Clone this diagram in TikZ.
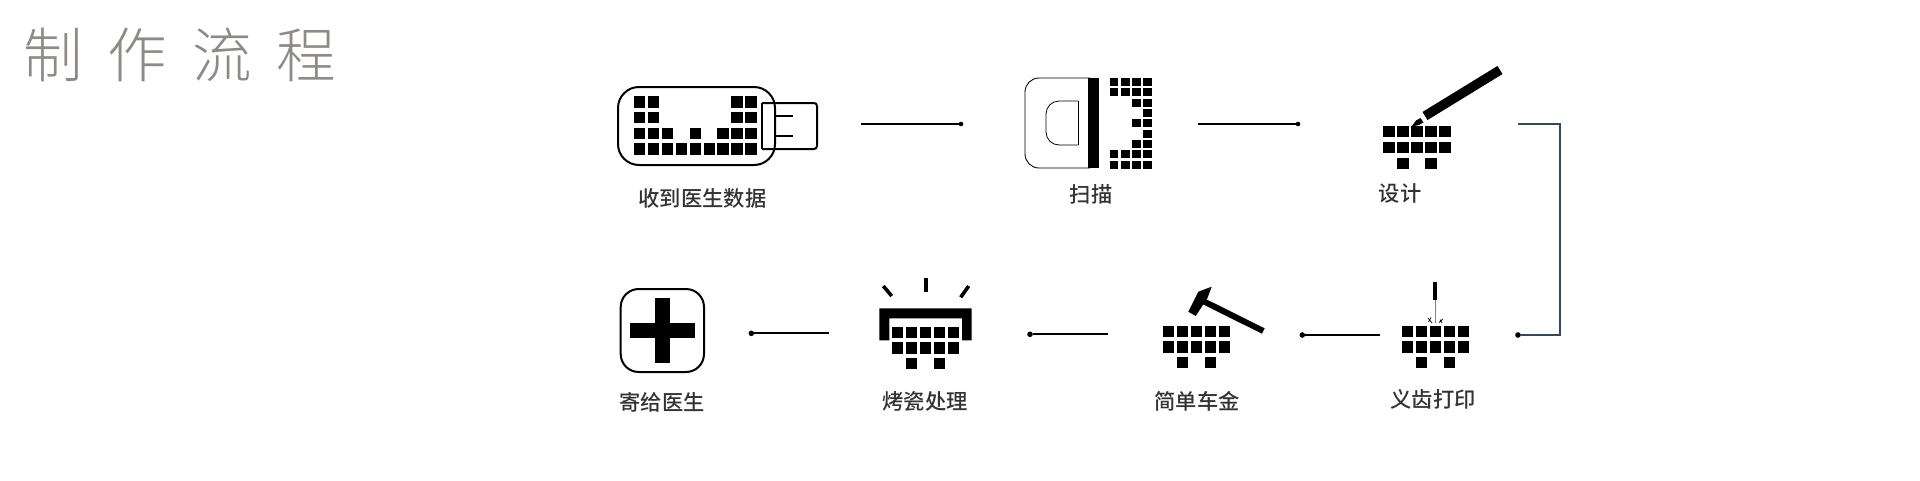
\documentclass[tikz,border=0pt]{standalone}
\usepackage{fontspec}
\setmainfont{Liberation Sans}
\newfontfamily\cjkfont{Noto Sans CJK SC Medium}
\newfontfamily\cjklight{Noto Sans CJK SC Light}
\definecolor{titlegrey}{HTML}{8F8A87}
\definecolor{labelgrey}{HTML}{333333}
\definecolor{navy}{HTML}{34495E}
\tikzset{
  lbl/.style={inner sep=0pt,anchor=center,text=labelgrey,font=\cjkfont\fontsize{21.3}{22}\selectfont},
  ttl/.style={inner sep=0pt,anchor=center,text=titlegrey,font=\cjklight\fontsize{59.5}{60}\selectfont},
  conn/.style={draw=black,line width=2.2pt},
  connblue/.style={draw=navy,line width=2.2pt,line join=miter},
  enddot/.style={circle,fill=black,inner sep=0pt,minimum size=5.6pt},
  outline/.style={draw=black,line width=2pt},
  thin outline/.style={draw=black,line width=0.9pt},
  solid part/.style={fill=black,draw=none}
}
% one block of a pixel grid, centred at (x,y), width, height
\newcommand{\blk}[4]{\fill[black] (#1-#3/2,#2-#4/2) rectangle (#1+#3/2,#2+#4/2);}
% the tooth grid: first column x, first row y
\newcommand{\toothgrid}[2]{%
  \foreach \c in {0,...,4}{\blk{#1+\c*14}{#2}{11.3}{11.3}\blk{#1+\c*14}{#2+15.8}{11.3}{11.3}}%
  \blk{#1+14}{#2+31.5}{11.3}{11.3}\blk{#1+42}{#2+31.5}{11.3}{11.3}}
\begin{document}
\begin{tikzpicture}[x=1pt,y=-1pt]
\useasboundingbox (0,0) rectangle (1920,480);
% title
\node[ttl] (title) at (180,55) {\spaceskip=25pt\relax 制 作 流 程};
% USB icon
\draw[outline,rounded corners=21pt] (618,87) rectangle (775,165);
\draw[outline] (762,103) -- (762,149);
\draw[outline,rounded corners=3pt] (762,149) -- (817,149) -- (817,103) -- (762,103);
\draw[line width=1.2pt] (775,116) -- (793,116) (775,136) -- (793,136);
\foreach \c in {0,1,7,8}{\blk{639.7+\c*13.9}{102}{11.3}{11.3}\blk{639.7+\c*13.9}{117.7}{11.3}{11.3}}
\foreach \c in {0,1,2,4,6,7,8}{\blk{639.7+\c*13.9}{133.3}{11.3}{11.3}}
\foreach \c in {0,...,8}{\blk{639.7+\c*13.9}{149}{11.3}{11.3}}
\node[lbl] (l1) at (702.5,198) {收到医生数据};
% scan icon
\draw[thin outline,rounded corners=14pt] (1090,78) -- (1025,78) -- (1025,168) -- (1090,168);
\fill[black] (1088,78) rectangle (1099,168);
\draw[line width=0.8pt,rounded corners=13pt] (1078,101) -- (1046,101) -- (1046,145) -- (1078,145);
\draw[line width=0.8pt] (1078,100.6) -- (1078,145.4);
\foreach \r/\cols in {0/{0,1,2,3},1/{0,1,2,3},2/{2,3},3/{3},4/{2,3},5/{3},6/{2,3},7/{0,1,2,3},8/{0,1,2,3}}{
  \foreach \c in \cols {\blk{1114+\c*11.2}{82+\r*10.33}{8.8}{8.2}}}
\node[lbl] (l2) at (1091,194) {扫描};
% design icon
\toothgrid{1389}{131.7}
\draw[line width=9.5pt] (1425,116) -- (1500,70);
\fill[black] (1411.5,126.5) -- (1416,120.5) -- (1420.5,118) -- (1423.5,122.5) -- (1419,125) -- cycle;
\node[lbl] (l3) at (1400,193.5) {设计};
% print icon
\toothgrid{1407.7}{331.3}
\fill[black] (1433.3,281.7) rectangle (1437.3,300);
\draw[gray,line width=0.5pt] (1435.3,300) -- (1435.3,323);
\draw[black,line width=0.7pt] (1428,318) -- (1432,323) (1431,317.5) -- (1428.5,322) (1439,322.5) -- (1443,319) (1440,319.5) -- (1442,323);
\node[lbl] (l4) at (1433,399.5) {义齿打印};
% hammer icon
\toothgrid{1168.3}{331.3}
\draw[line width=6pt] (1204,301.5) -- (1263.3,331);
\fill[black] (1188.3,311.7) -- (1195.7,316) -- (1207.3,298.3) -- (1211.7,286.7) -- (1198.3,291.7) -- cycle;
\node[lbl] (l5) at (1197,401.2) {简单车金};
% oven icon
\toothgrid{897.7}{332.3}
\fill[black] (879.3,308.3) -- (971.7,308.3) -- (971.7,340.3) -- (962,340.3) -- (962,318.3) -- (889.3,318.3) -- (889.3,340.3) -- (879.3,340.3) -- cycle;
\draw[line width=3.6pt] (926,278.3) -- (926,291.7);
\draw[line width=3.6pt] (883.3,286) -- (891.7,296);
\draw[line width=3.6pt] (968.7,286) -- (960.7,297.3);
\node[lbl] (l6) at (925,401.2) {烤瓷处理};
% plus icon
\draw[outline,rounded corners=18pt] (620.7,289) rectangle (704,372);
\fill[black] (630,323) rectangle (695.3,338.3);
\fill[black] (655,298) rectangle (670.3,363);
\node[lbl] (l7) at (662,402) {寄给医生};
% connectors
\coordinate (a1) at (861,124);
\node[enddot,minimum size=4.6pt] (d1) at (961,124) {};
\draw[conn] (a1) -- (d1);
\coordinate (a2) at (1198,124);
\node[enddot,minimum size=4.6pt] (d2) at (1298,124) {};
\draw[conn] (a2) -- (d2);
\coordinate (a3) at (1518,124.3);
\coordinate (b3) at (1560,124.3);
\coordinate (c3) at (1560,335);
\node[enddot] (d3) at (1518,335) {};
\draw[connblue] (a3) -- (b3) -- (c3) -- (d3);
\coordinate (a4) at (1380,335);
\node[enddot] (d4) at (1302.3,335) {};
\draw[conn] (a4) -- (d4);
\coordinate (a5) at (1108,334.3);
\node[enddot] (d5) at (1030,334.3) {};
\draw[conn] (a5) -- (d5);
\coordinate (a6) at (829.3,333.3);
\node[enddot] (d6) at (751.3,333.3) {};
\draw[conn] (a6) -- (d6);
\end{tikzpicture}
\end{document}
